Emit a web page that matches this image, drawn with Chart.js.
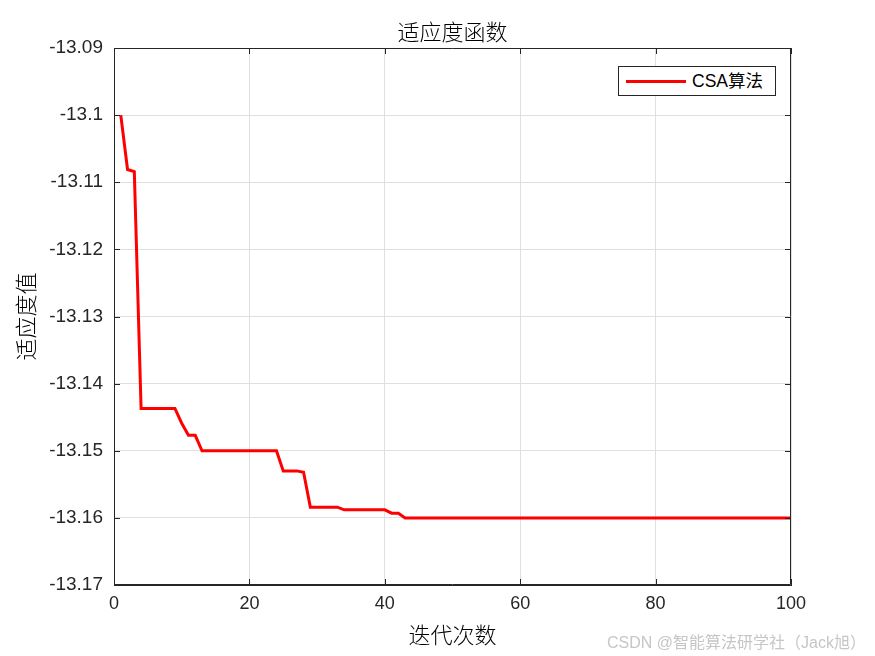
<!DOCTYPE html>
<html>
<head>
<meta charset="utf-8">
<script src="https://cdn.jsdelivr.net/npm/chart.js@4/dist/chart.umd.min.js"></script>
<style>
  html, body { margin: 0; padding: 0; background: #fff; }
  #wrap { position: relative; width: 875px; height: 656px; background: #fff; }
  #c { position: absolute; left: 0; top: 0; }
  #title {
    position: absolute; left: 352px; width: 201px; top: 16px; text-align: center;
    font-family: "Noto Sans CJK SC", sans-serif; font-weight: 300; font-size: 22px; line-height: 28px; color: #000;
    white-space: nowrap;
  }
  #legend {
    position: absolute; left: 618px; top: 66px; width: 156px; height: 28px;
    border: 1px solid #262626; background: #fff; box-sizing: content-box;
    font-family: "Liberation Sans", Arial, "Noto Sans CJK SC", sans-serif; font-size: 17.5px; color: #000;
  }
  #legend .sw { position: absolute; left: 7px; top: 13px; width: 60px; height: 3px; background: #ff0000; }
  #legend .tx { position: absolute; left: 73px; top: 4px; line-height: 20px; white-space: nowrap; }
  #wm {
    position: absolute; left: 607px; top: 629px; white-space: nowrap;
    font-family: "Liberation Sans", Arial, "Noto Sans CJK SC", sans-serif; font-size: 16px; color: #c6c6c6;
  }
</style>
</head>
<body>
<div id="wrap">
  <canvas id="c" width="875" height="656"></canvas>
  <div id="title"></div>
  <div id="legend"><div class="sw"></div><div class="tx"></div></div>
  <div id="wm">CSDN @智能算法研学社（Jack旭）</div>
</div>
<script>
const chartTitle = "适应度函数";
const xAxisTitle = "迭代次数";
const yAxisTitle = "适应度值";
const seriesName = "CSA算法";
const xTicks = [0, 20, 40, 60, 80, 100];
const yTicks = [-13.17, -13.16, -13.15, -13.14, -13.13, -13.12, -13.11, -13.1, -13.09];

const fitness = [
  -13.1000, -13.1081, -13.1084,
  -13.1437, -13.1437, -13.1437, -13.1437, -13.1437, -13.1437,
  -13.1459, -13.1477, -13.1477,
  -13.1500, -13.1500, -13.1500, -13.1500, -13.1500, -13.1500,
  -13.1500, -13.1500, -13.1500, -13.1500, -13.1500, -13.1500,
  -13.1530, -13.1530, -13.1530, -13.1532,
  -13.1584, -13.1584, -13.1584, -13.1584, -13.1584,
  -13.1588, -13.1588, -13.1588, -13.1588, -13.1588, -13.1588, -13.1588,
  -13.1593, -13.1593,
  -13.1600, -13.1600, -13.1600, -13.1600, -13.1600, -13.1600, -13.1600, -13.1600, -13.1600, -13.1600,
  -13.1600, -13.1600, -13.1600, -13.1600, -13.1600, -13.1600, -13.1600, -13.1600, -13.1600, -13.1600,
  -13.1600, -13.1600, -13.1600, -13.1600, -13.1600, -13.1600, -13.1600, -13.1600, -13.1600, -13.1600,
  -13.1600, -13.1600, -13.1600, -13.1600, -13.1600, -13.1600, -13.1600, -13.1600, -13.1600, -13.1600,
  -13.1600, -13.1600, -13.1600, -13.1600, -13.1600, -13.1600, -13.1600, -13.1600, -13.1600, -13.1600,
  -13.1600, -13.1600, -13.1600, -13.1600, -13.1600, -13.1600, -13.1600, -13.1600
];
const iterations = fitness.map((_, i) => i + 1);

document.getElementById('title').textContent = chartTitle;
document.querySelector('#legend .tx').textContent = seriesName;

const points = iterations.map((x, i) => ({ x: x, y: fitness[i] }));

const axisColor = '#262626';
const xTickFont = { family: '"Liberation Sans", Arial, sans-serif', size: 18 };
const yTickFont = { family: '"Liberation Sans", Arial, sans-serif', size: 19 };
const cjkFont = '"Noto Sans CJK SC", sans-serif';

const boxPlugin = {
  id: 'matlabBox',
  afterDraw(chart) {
    const { ctx, chartArea: a, scales: { x, y } } = chart;
    ctx.save();
    ctx.strokeStyle = axisColor;
    ctx.lineWidth = 1;
    ctx.beginPath();
    ctx.rect(Math.round(a.left) + 0.5, Math.round(a.top) + 0.5,
             Math.round(a.right - a.left) - 1, Math.round(a.bottom - a.top) - 1);
    ctx.stroke();
    const tl = 6;
    ctx.beginPath();
    xTicks.forEach(v => {
      const px = Math.round(x.getPixelForValue(v)) + 0.5;
      ctx.moveTo(px, a.bottom); ctx.lineTo(px, a.bottom - tl);
      ctx.moveTo(px, a.top); ctx.lineTo(px, a.top + tl);
    });
    yTicks.forEach(v => {
      const py = Math.round(y.getPixelForValue(v)) + 0.5;
      ctx.moveTo(a.left, py); ctx.lineTo(a.left + tl, py);
      ctx.moveTo(a.right, py); ctx.lineTo(a.right - tl, py);
    });
    ctx.stroke();
    ctx.restore();
  }
};

new Chart(document.getElementById('c'), {
  type: 'line',
  data: {
    datasets: [{
      label: seriesName,
      data: points,
      borderColor: '#ff0000',
      backgroundColor: '#ff0000',
      borderWidth: 3,
      pointRadius: 0,
      tension: 0,
      fill: false,
      clip: false
    }]
  },
  options: {
    responsive: false,
    devicePixelRatio: 1,
    animation: false,
    layout: { padding: { left: 0, right: 84, top: 48, bottom: 0 } },
    plugins: {
      legend: { display: false },
      tooltip: { enabled: false },
      title: { display: false }
    },
    scales: {
      x: {
        type: 'linear',
        min: 0, max: 100,
        afterFit(scale) { scale.height = 71; },
        afterBuildTicks(scale) { scale.ticks = xTicks.map(v => ({ value: v })); },
        ticks: { color: axisColor, font: xTickFont, padding: 8, maxRotation: 0 },
        grid: { color: '#dfdfdf', drawTicks: false, lineWidth: 1 },
        border: { display: true, color: axisColor },
        title: {
          display: true, text: xAxisTitle, color: '#000',
          font: { family: cjkFont, size: 22, weight: 300 },
          padding: { top: 0, bottom: 8 }
        }
      },
      y: {
        type: 'linear',
        min: -13.17, max: -13.09,
        afterFit(scale) { scale.width = 114; },
        afterBuildTicks(scale) { scale.ticks = yTicks.map(v => ({ value: v })); },
        ticks: {
          color: axisColor, font: yTickFont, padding: 11,
          callback: v => String(Number(Number(v).toFixed(2)))
        },
        grid: { color: '#dfdfdf', drawTicks: false, lineWidth: 1 },
        border: { display: true, color: axisColor },
        title: {
          display: true, text: yAxisTitle, color: '#000',
          font: { family: cjkFont, size: 22, weight: 300 },
          padding: { top: 12, bottom: 12 }
        }
      }
    }
  },
  plugins: [boxPlugin]
});
</script>
</body>
</html>
